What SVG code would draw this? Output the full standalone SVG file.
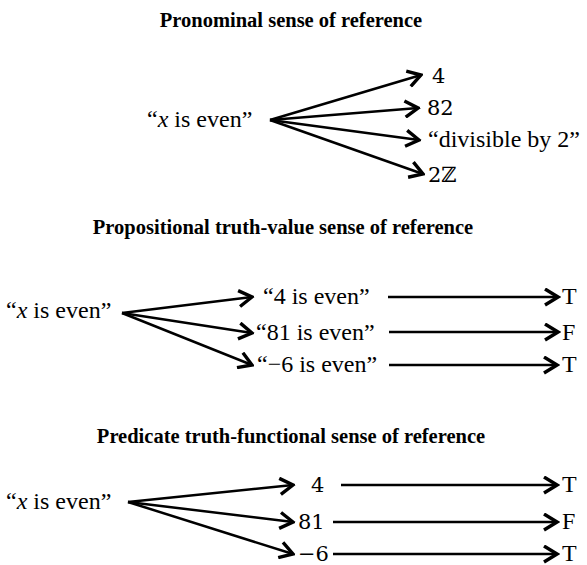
<svg xmlns="http://www.w3.org/2000/svg" width="587" height="565" viewBox="0 0 587 565">
<defs>
<style>
.t{font-family:"Liberation Serif","Times New Roman",serif;font-size:20.5px;font-weight:bold;fill:#000;text-anchor:middle}
.x{font-family:"Liberation Serif","Times New Roman",serif;font-size:24px;fill:#000}
.m{font-family:"DejaVu Serif","Liberation Serif",serif;font-size:21px;fill:#000}
.c line{stroke:#000;stroke-width:2.5;marker-end:url(#h)}
</style>
<marker id="h" markerUnits="userSpaceOnUse" viewBox="0 0 17 19" markerWidth="17" markerHeight="19" refX="14.5" refY="9.5" orient="auto">
<path d="M1.5,1.5 L14.5,9.5 L1.5,17.5" fill="none" stroke="#000" stroke-width="3.4" stroke-linejoin="miter"/>
</marker>
</defs>
<g id="titles">
<text class="t" x="291" y="27">Pronominal sense of reference</text>
<text class="t" x="283" y="234">Propositional truth-value sense of reference</text>
<text class="t" x="291" y="443">Predicate truth-functional sense of reference</text>
</g>
<g id="s1-source"><text class="x" x="147" y="127">“<tspan font-style="italic">x</tspan> is even”</text></g>
<g id="s1-4"><text class="m" x="432" y="83">4</text></g>
<g id="s1-82"><text class="m" x="427" y="115">82</text></g>
<g id="s1-div"><text class="x" x="428" y="147">“divisible by 2”</text></g>
<g id="s1-2Z"><text class="m" x="428" y="182">2ℤ</text></g>
<g id="s2-source"><text class="x" x="6" y="318">“<tspan font-style="italic">x</tspan> is even”</text></g>
<g id="s2-4"><text class="x" x="263" y="304">“4 is even”</text></g>
<g id="s2-81"><text class="x" x="256" y="340">“81 is even”</text></g>
<g id="s2-m6"><text class="x" x="257" y="372">“−6 is even”</text></g>
<g id="s2-T1"><text class="x" x="562" y="304">T</text></g>
<g id="s2-F"><text class="x" x="562" y="340">F</text></g>
<g id="s2-T2"><text class="x" x="562" y="372">T</text></g>
<g id="s3-source"><text class="x" x="6" y="509">“<tspan font-style="italic">x</tspan> is even”</text></g>
<g id="s3-4"><text class="m" x="311" y="492">4</text></g>
<g id="s3-81"><text class="m" x="298" y="529">81</text></g>
<g id="s3-m6"><text class="m" x="298" y="561">−6</text></g>
<g id="s3-T1"><text class="x" x="562" y="492">T</text></g>
<g id="s3-F"><text class="x" x="562" y="529">F</text></g>
<g id="s3-T2"><text class="x" x="562" y="561">T</text></g>
<g id="connectors" class="c">
<line x1="270" y1="120" x2="421" y2="75"/>
<line x1="270" y1="120" x2="418" y2="108"/>
<line x1="270" y1="120" x2="419" y2="140"/>
<line x1="270" y1="120" x2="423" y2="174"/>
<line x1="122" y1="313" x2="252" y2="297"/>
<line x1="122" y1="313" x2="252" y2="333"/>
<line x1="122" y1="313" x2="252" y2="365"/>
<line x1="388" y1="297" x2="558" y2="297"/>
<line x1="389" y1="332" x2="558" y2="332"/>
<line x1="389" y1="365" x2="557" y2="365"/>
<line x1="128" y1="502" x2="293" y2="485"/>
<line x1="128" y1="502" x2="293" y2="522"/>
<line x1="128" y1="502" x2="293" y2="554"/>
<line x1="341" y1="485" x2="557" y2="485"/>
<line x1="333" y1="522" x2="557" y2="522"/>
<line x1="333" y1="554" x2="557" y2="554"/>
</g>
</svg>
